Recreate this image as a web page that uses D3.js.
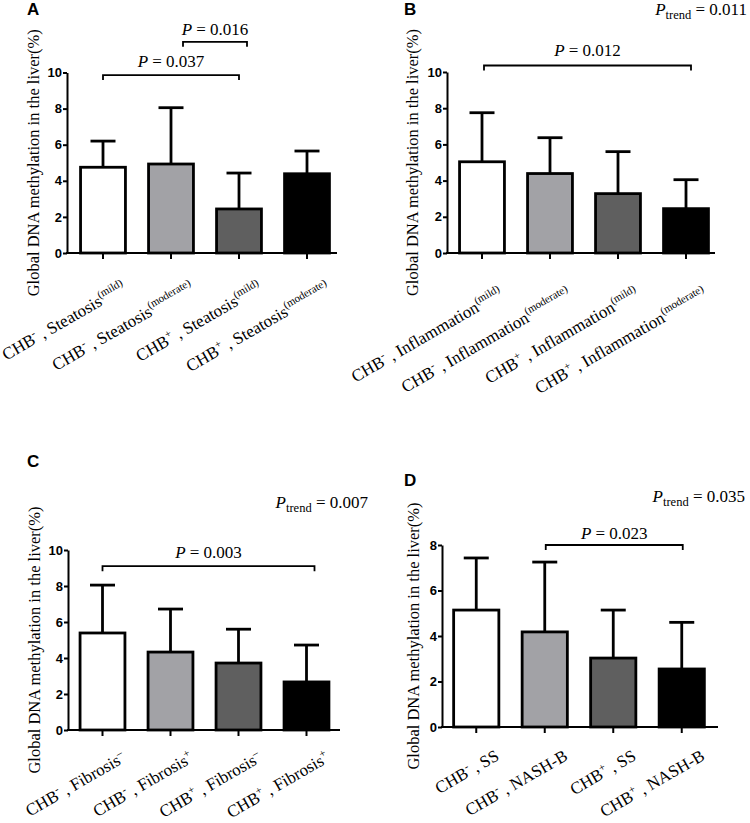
<!DOCTYPE html>
<html><head><meta charset="utf-8">
<script src="https://cdn.jsdelivr.net/npm/d3@7"></script>
<style>body{margin:0;background:#fff}</style>
</head><body><svg id="chart" width="750" height="823"></svg>
<script>
// ---------- DATA ----------
const categoriesA = ["CHB^{-} , Steatosis^{(mild)}", "CHB^{-} , Steatosis^{(moderate)}", "CHB^{+} , Steatosis^{(mild)}", "CHB^{+} , Steatosis^{(moderate)}"];
const meansA = [4.75, 4.93, 2.44, 4.39];
const sdA    = [1.45, 3.12, 1.99, 1.26];
const pairsA = [[0, 2], [1, 2]];
const pValuesA = ["0.037", "0.016"];

const categoriesB = ["CHB^{-} , Inflammation^{(mild)}", "CHB^{-} , Inflammation^{(moderate)}", "CHB^{+} , Inflammation^{(mild)}", "CHB^{+} , Inflammation^{(moderate)}"];
const meansB = [5.04, 4.39, 3.28, 2.45];
const sdB    = [2.71, 1.98, 2.32, 1.60];
const pairsB = [[0, 3]];
const pValuesB = ["0.012"];
const pTrendB = "0.011";

const categoriesC = ["CHB^{-} , Fibrosis^{–}", "CHB^{-} , Fibrosis^{+}", "CHB^{+} , Fibrosis^{–}", "CHB^{+} , Fibrosis^{+}"];
const meansC = [5.39, 4.33, 3.72, 2.67];
const sdC    = [2.66, 2.39, 1.88, 2.05];
const pairsC = [[0, 3]];
const pValuesC = ["0.003"];
const pTrendC = "0.007";

const categoriesD = ["CHB^{-} , SS", "CHB^{-} , NASH-B", "CHB^{+} , SS", "CHB^{+} , NASH-B"];
const meansD = [5.14, 4.18, 3.03, 2.55];
const sdD    = [2.29, 3.07, 2.11, 2.05];
const pairsD = [[1, 3]];
const pValuesD = ["0.023"];
const pTrendD = "0.035";

const ticks10 = [0, 2, 4, 6, 8, 10];
const ticks8 = [0, 2, 4, 6, 8];
const yTitle = "Global DNA methylation in the liver(%)";

// ---------- STYLE / LAYOUT ----------
const barColors = ["#ffffff", "#a2a2a6", "#5f5f5f", "#000000"];
const SERIF = "'Liberation Serif','Times New Roman',serif";
const SANS = "'Liberation Sans',Arial,sans-serif";

const panels = [
  {letter:"A", lx:27, ly:15, cats:categoriesA, means:meansA, sds:sdA, yMax:10, ticks:ticks10,
   x0:67, x1:337, band:[69,341], yTop:72.5, yBottom:253, titleX:39, labDx:24, labDy:38,
   pairs:pairsA, pvals:pValuesA, bracketY:[9.86, 11.7], bracketShift:[[0,0],[12,8]], textGap:[8,7],
   trend:null},
  {letter:"B", lx:404, ly:15, cats:categoriesB, means:meansB, sds:sdB, yMax:10, ticks:ticks10,
   x0:447, x1:715, band:[448,720], yTop:72, yBottom:253, titleX:418, labDx:22, labDy:44,
   pairs:pairsB, pvals:pValuesB, bracketY:[10.36], bracketShift:[[2,5]], textGap:[9],
   trend:pTrendB, tx:747, ty:15},
  {letter:"C", lx:27, ly:467, cats:categoriesC, means:meansC, sds:sdC, yMax:10, ticks:ticks10,
   x0:68, x1:340, band:[68.5,340.5], yTop:550, yBottom:730, titleX:40, labDx:24, labDy:31,
   pairs:pairsC, pvals:pValuesC, bracketY:[9.1], bracketShift:[[0,8]], textGap:[8],
   trend:pTrendC, tx:368, ty:508},
  {letter:"D", lx:404, ly:486, cats:categoriesD, means:meansD, sds:sdD, yMax:8, ticks:ticks8,
   x0:442, x1:718, band:[442,716], yTop:545, yBottom:727, titleX:419, labDx:24, labDy:32,
   pairs:pairsD, pvals:pValuesD, bracketY:[8.0], bracketShift:[[1,1]], textGap:[6],
   trend:pTrendD, tx:745, ty:502}
];

const svg = d3.select("#chart");

function addLabel(g, str, x, y) {
  const parts = str.split(/\^\{([^}]*)\}/);
  const t = g.append("text")
    .attr("transform", `translate(${x},${y}) rotate(-30)`)
    .attr("text-anchor", "end")
    .attr("font-family", SERIF).attr("font-size", 17).attr("fill", "#000");
  let shifted = 0;
  parts.forEach((s, i) => {
    if (s === "") return;
    if (i % 2 === 1) {
      t.append("tspan").attr("dy", -7 - shifted).attr("font-size", 11).text(s);
      shifted = -7;
    } else {
      t.append("tspan").attr("dy", -shifted).text(s);
      shifted = 0;
    }
  });
}

function drawPanel(p) {
  const g = svg.append("g");
  const y = d3.scaleLinear().domain([0, p.yMax]).range([p.yBottom, p.yTop]);
  const x = d3.scaleBand().domain(d3.range(p.cats.length)).range(p.band)
    .paddingInner(0.34).paddingOuter(0.17);
  const cx = i => x(i) + x.bandwidth() / 2;

  // bars
  g.selectAll("rect.bar").data(p.means).join("rect")
    .attr("x", (d, i) => x(i)).attr("y", d => y(d))
    .attr("width", x.bandwidth()).attr("height", d => y(0) - y(d))
    .attr("fill", (d, i) => barColors[i]).attr("stroke", "#000").attr("stroke-width", 2.8);

  // error bars (upper)
  const eb = g.selectAll("g.err").data(p.means).join("g");
  eb.append("line").attr("x1", (d, i) => cx(i)).attr("x2", (d, i) => cx(i))
    .attr("y1", d => y(d)).attr("y2", (d, i) => y(d + p.sds[i]))
    .attr("stroke", "#000").attr("stroke-width", 2.8);
  eb.append("line").attr("x1", (d, i) => cx(i) - 12.5).attr("x2", (d, i) => cx(i) + 12.5)
    .attr("y1", (d, i) => y(d + p.sds[i])).attr("y2", (d, i) => y(d + p.sds[i]))
    .attr("stroke", "#000").attr("stroke-width", 2.8);

  // y axis
  const ya = g.append("g").attr("transform", `translate(${p.x0},0)`)
    .call(d3.axisLeft(y).tickValues(p.ticks).tickSize(4).tickSizeOuter(0).tickFormat(d3.format("d")));
  ya.select(".domain").attr("stroke-width", 2);
  ya.selectAll(".tick line").attr("stroke-width", 2);
  ya.selectAll(".tick text").attr("font-family", SANS).attr("font-weight", "bold")
    .attr("font-size", 13).attr("x", -5).attr("fill", "#000");

  // x axis
  const xa = g.append("g").attr("transform", `translate(0,${p.yBottom})`)
    .call(d3.axisBottom(x).tickSize(6).tickSizeOuter(0).tickFormat(""));
  xa.select(".domain").remove();
  xa.selectAll(".tick line").attr("stroke-width", 2);
  g.append("line").attr("x1", p.x0 - 1).attr("x2", p.x1).attr("y1", p.yBottom).attr("y2", p.yBottom)
    .attr("stroke", "#000").attr("stroke-width", 2);

  // x labels
  p.cats.forEach((c, i) => addLabel(g, c, cx(i) + p.labDx, p.yBottom + p.labDy));

  // y title
  g.append("text")
    .attr("transform", `translate(${p.titleX},${(p.yTop + p.yBottom) / 2}) rotate(-90)`)
    .attr("text-anchor", "middle").attr("font-family", SERIF).attr("font-size", 16.5)
    .text(yTitle);

  // panel letter
  g.append("text").attr("x", p.lx).attr("y", p.ly).attr("font-family", SANS)
    .attr("font-weight", "bold").attr("font-size", 17).text(p.letter);

  // brackets
  p.pairs.forEach((pr, k) => {
    const xa1 = cx(pr[0]) + p.bracketShift[k][0], xa2 = cx(pr[1]) + p.bracketShift[k][1];
    const by = y(p.bracketY[k]);
    g.append("path").attr("d", `M${xa1},${by + 5}V${by}H${xa2}V${by + 5}`)
      .attr("fill", "none").attr("stroke", "#000").attr("stroke-width", 1.8);
    const t = g.append("text").attr("x", (xa1 + xa2) / 2).attr("y", by - p.textGap[k])
      .attr("text-anchor", "middle").attr("font-family", SERIF).attr("font-size", 17);
    t.append("tspan").attr("font-style", "italic").text("P");
    t.append("tspan").text(" = " + p.pvals[k]);
  });

  // trend
  if (p.trend) {
    const t = g.append("text").attr("x", p.tx).attr("y", p.ty).attr("text-anchor", "end")
      .attr("font-family", SERIF).attr("font-size", 17);
    t.append("tspan").attr("font-style", "italic").text("P");
    t.append("tspan").attr("font-size", 12.5).attr("dy", 4).text("trend");
    t.append("tspan").attr("dy", -4).text(" = " + p.trend);
  }
}

panels.forEach(drawPanel);
</script></body></html>
